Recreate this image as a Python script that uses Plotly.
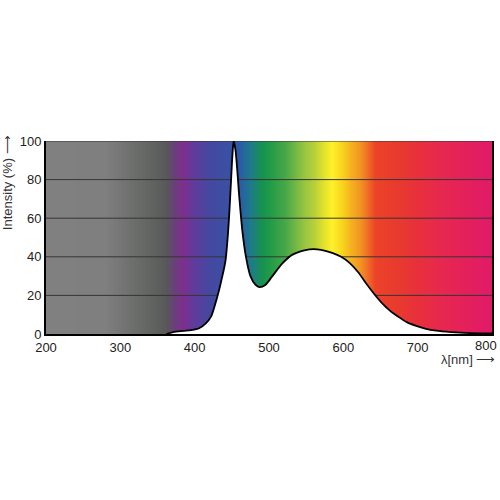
import plotly.graph_objects as go

# Spectrum curve (wavelength nm, relative intensity %)
wavelength = [362, 371, 385, 395, 406, 415, 422, 428, 433, 436, 439, 441.5, 444, 446.5,
              449, 451, 452.5, 455, 460, 464, 469, 475, 482, 487, 495, 504, 518, 531,
              549, 560, 570, 585, 597, 608, 620, 631, 641, 652, 663, 675, 686, 698,
              710, 725, 745, 770, 800]
intensity = [0, 1.0, 1.6, 2.0, 3.0, 5.5, 9, 16, 23, 28, 33, 38, 48, 62,
             80, 94, 100, 95, 71, 54, 40, 30, 25.4, 24.3, 25.4, 29.7, 36.6, 41,
             43.5, 44, 43.6, 42, 40, 37, 32, 26, 21, 16, 12, 8.7, 6, 4.2,
             2.8, 1.7, 1, 0.5, 0.3]

# Background spectrum colour stops
spec_nm = [200, 280, 340, 362, 372, 384, 400, 420, 445, 460, 475, 490, 500, 523, 545,
           560, 575, 585, 598, 610, 622, 633, 642, 675, 700, 730, 770, 800]
spec_col = ["#808080", "#7e7f7e", "#626462", "#585858", "#6a3f7a", "#7e2f8e", "#5c3c9c",
            "#44489f", "#3a50a4", "#2b5aa8", "#1e7a8c", "#17924f", "#1f9a48", "#4aa948",
            "#90c242", "#b8d03a", "#e8e52a", "#fef12a", "#f8d41c", "#f5b020", "#f29422",
            "#ef6a26", "#ec4329", "#e8392e", "#e8303c", "#e6284e", "#e31f5e", "#e01a68"]

x_ticks = [200, 300, 400, 500, 600, 700, 800]
x_ticktext = ["200", "300", "400", "500", "600", "700", ""]
y_ticks = [0, 20, 40, 60, 80, 100]
grid_vals = [20, 40, 60, 80, 100]

lo, hi = spec_nm[0], spec_nm[-1]
colorscale = [[(v - lo) / (hi - lo), c] for v, c in zip(spec_nm, spec_col)]

fig = go.Figure()
fig.add_trace(go.Heatmap(
    x=spec_nm, y=[0, 100], z=[spec_nm, spec_nm],
    colorscale=colorscale, zmin=lo, zmax=hi, zsmooth="best",
    showscale=False, hoverinfo="skip"))

for g in grid_vals:
    fig.add_trace(go.Scatter(x=[lo, hi], y=[g, g], mode="lines",
                             line=dict(color="#353535", width=1),
                             hoverinfo="skip", showlegend=False))

fig.add_trace(go.Scatter(x=wavelength, y=intensity, mode="lines",
                         line=dict(color="black", width=1.8, shape="spline", smoothing=0.8),
                         fill="tozeroy", fillcolor="white", showlegend=False))

font = dict(family="Liberation Sans, Arial, sans-serif", size=13, color="#222")
plot_w = 500 - 46 - 6
plot_h = 500 - 141 - 166
fig.update_layout(
    width=500, height=500,
    margin=dict(l=46, r=6, t=141, b=166),
    paper_bgcolor="white", plot_bgcolor="white",
    font=font, showlegend=False,
    xaxis=dict(range=[200, 800], tickvals=x_ticks, ticktext=x_ticktext,
               showgrid=False, zeroline=False,
               showline=True, linecolor="black", linewidth=2,
               ticks="", ticklen=0, tickfont=dict(size=13, color="#222")),
    yaxis=dict(range=[0, 100], tickvals=y_ticks, showgrid=False, zeroline=False,
               showline=True, linecolor="black", linewidth=2, mirror=True,
               ticks="", tickfont=dict(size=13, color="#222")),
    annotations=[
        dict(text="Intensity (%) ⟶", textangle=-90,
             x=(7 - 46) / plot_w, y=(334 - 183) / plot_h, xref="paper", yref="paper",
             xanchor="center", yanchor="middle",
             showarrow=False, font=dict(size=13, color="#333")),
        dict(text="800", x=800, y=0, xref="x", yref="y",
             xanchor="center", yanchor="middle", xshift=-6, yshift=-11,
             showarrow=False, font=dict(size=13, color="#222")),
        dict(text="λ[nm] ⟶", x=1.0, y=0, xref="paper", yref="paper",
             xanchor="right", yanchor="middle", xshift=5, yshift=-25,
             showarrow=False, font=dict(size=13, color="#333")),
    ],
)

fig.write_html("out.html", config={"displayModeBar": False},
               post_script="document.body.style.margin='0';")
